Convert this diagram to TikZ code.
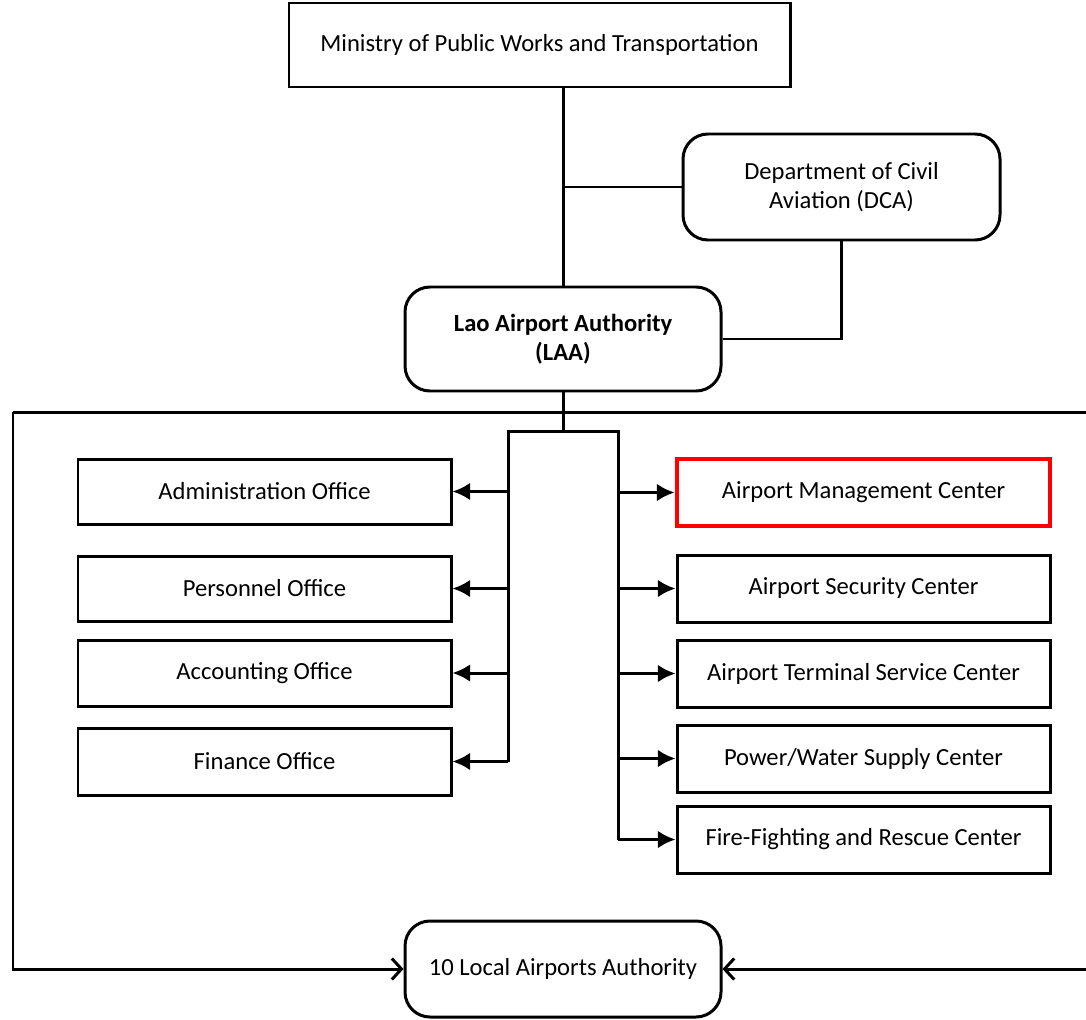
\documentclass[tikz,border=0pt]{standalone}
\usepackage{fontspec}
\setmainfont{Carlito}
\usepackage{tikz}
\usetikzlibrary{
  arrows.meta,
  calc
}
\tikzset{>=Latex}
\tikzset{
  unit/.style={draw,line width=1.7pt,minimum width=7.46cm,minimum height=1.32cm,
    align=center,inner sep=0pt,font=\fontsize{14}{16.5}\selectfont},
  roundunit/.style={unit,rounded corners=0.5cm},
  link/.style={line width=1.7pt},
  feed/.style={link,-{Latex[length=10pt,width=10pt]}},
  openfeed/.style={link,-{Straight Barb[length=5.5pt,width=12pt]}}
}

\begin{document}
\begin{tikzpicture}
	\useasboundingbox (0,0) rectangle (21.72,-20.38);
	% top levels
	\node[unit,minimum width=10.02cm,minimum height=1.68cm] (mpwt) at (10.79,-0.9) {Ministry of Public Works and Transportation};
	\node[roundunit,minimum width=6.34cm,minimum height=2.12cm] (dca) at (16.83,-3.74) {Department of Civil\\Aviation (DCA)};
	\node[roundunit,minimum width=6.32cm,minimum height=2.08cm,font=\fontsize{14}{16.5}\selectfont\bfseries] (laa) at (11.26,-6.78) {Lao Airport Authority\\(LAA)};
	\node[roundunit,minimum width=6.32cm,minimum height=1.92cm] (local) at (11.26,-19.38) {10 Local Airports Authority};
	% offices
	\node[unit,minimum height=1.30cm] (admin) at (5.29,-9.83) {Administration Office};
	\node[unit,minimum height=1.30cm] (pers) at (5.29,-11.77) {Personnel Office};
	\node[unit] (acct) at (5.29,-13.46) {Accounting Office};
	\node[unit,minimum height=1.34cm] (fin) at (5.29,-15.23) {Finance Office};
	% centers
	\node[unit,draw=red,line width=2.8pt,minimum height=1.34cm] (amc) at (17.27,-9.85) {Airport Management Center};
	\node[unit,minimum height=1.34cm] (asc) at (17.27,-11.77) {Airport Security Center};
	\node[unit,minimum height=1.34cm] (atsc) at (17.27,-13.47) {Airport Terminal Service Center};
	\node[unit,minimum height=1.34cm] (pwsc) at (17.27,-15.17) {Power/Water Supply Center};
	\node[unit,minimum height=1.34cm] (ffrc) at (17.27,-16.79) {Fire-Fighting and Rescue Center};
	% frame and buses
	\coordinate (frameL) at (0.26,-8.24);
	\coordinate (frameR) at (21.72,-8.24);
	\coordinate (busTop) at (11.26,-8.62);
	\coordinate (busL) at (10.16,-8.62);
	\coordinate (busR) at (12.36,-8.62);
	\coordinate (edgeR) at (21.72,-19.38);
	% links from the top
	\draw[link] (laa.north |- mpwt.south) -- (laa.north);
	\draw[link] (laa.north |- dca.west) -- (dca.west);
	\draw[link] (dca.south) |- (laa.east);
	\draw[link] (laa.south) -- (busTop);
	\draw[link] (frameR) -- (frameL);
	\draw[openfeed] (frameL) |- (local.west);
	\draw[openfeed] (edgeR) -- (local.east);
	\draw[link] (busL |- fin.east) -- (busL) -- (busR) -- (busR |- ffrc.west);
	% arrows to offices
	\foreach \n in {admin,pers,acct,fin}
		\draw[feed] (busL |- \n.east) -- (\n.east);
	% arrows to centers
	\foreach \n in {amc,asc,atsc,pwsc,ffrc}
		\draw[feed] (busR |- \n.west) -- (\n.west);
\end{tikzpicture}
\end{document}
